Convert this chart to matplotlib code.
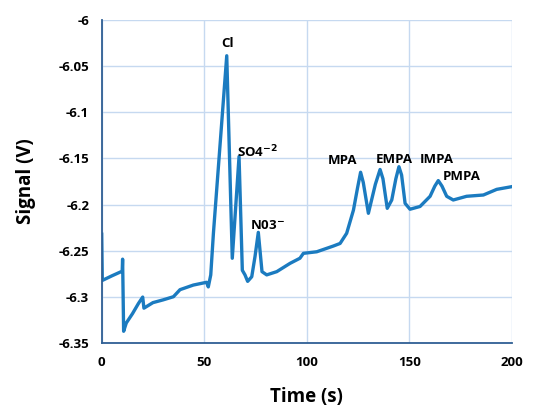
import numpy as np
import matplotlib
matplotlib.use('Agg')
import matplotlib.pyplot as plt

plt.rcParams['font.family'] = ['Open Sans', 'DejaVu Sans']

# chromatogram trace (time s, signal V)
time_s = [0.0, 0.3, 5.0, 10.0, 10.2, 10.7, 12.0, 15.0, 17.9, 20.0, 20.6, 25.0,
          30.0, 35.0, 38.2, 44.7, 51.2, 52.0, 53.2, 54.5, 61.0, 63.7, 67.0,
          68.6, 69.9, 71.2, 73.2, 74.8, 76.4, 78.2, 80.5, 85.4, 91.9, 96.7,
          98.4, 104.9, 113.0, 116.3, 119.5, 122.8, 124.8, 126.3, 127.6, 130.1,
          133.5, 135.8, 137.2, 139.3, 141.5, 143.5, 145.0, 146.3, 148.0, 150.4,
          155.3, 160.2, 162.5, 164.2, 166.0, 168.3, 171.5, 178.0, 186.2, 192.7,
          200.0]
signal_v = [-6.232, -6.282, -6.277, -6.272, -6.259, -6.337, -6.328, -6.318,
            -6.307, -6.300, -6.312, -6.306, -6.303, -6.2996, -6.292, -6.287,
            -6.284, -6.289, -6.276, -6.231, -6.039, -6.258, -6.148, -6.271,
            -6.276, -6.283, -6.278, -6.256, -6.230, -6.2725, -6.276, -6.2725,
            -6.2635, -6.258, -6.2527, -6.251, -6.2448, -6.242, -6.231, -6.206,
            -6.182, -6.165, -6.176, -6.2094, -6.178, -6.162, -6.172, -6.204,
            -6.195, -6.172, -6.159, -6.168, -6.1986, -6.205, -6.202, -6.191,
            -6.180, -6.174, -6.180, -6.191, -6.195, -6.191, -6.1896, -6.1835,
            -6.1806]

peak_labels = ['Cl', 'SO4$^{\\mathbf{-2}}$', 'N03$^{\\mathbf{-}}$', 'MPA', 'EMPA', 'IMPA', 'PMPA']
label_t = [61.6, 66.2, 72.4, 117.6, 133.8, 155.3, 166.3]
label_v = [-6.026, -6.143, -6.223, -6.1525, -6.1507, -6.1507, -6.170]
label_ha = ['center', 'left', 'left', 'center', 'left', 'left', 'left']

xticks = [0, 50, 100, 150, 200]
yticks = [-6.35, -6.3, -6.25, -6.2, -6.15, -6.1, -6.05, -6.0]
ytick_labels = ['-6.35', '-6.3', '-6.25', '-6.2', '-6.15', '-6.1', '-6.05', '-6']

fig = plt.figure(figsize=(5.33, 4.07), dpi=100)
ax = fig.add_axes([0.1908, 0.1565, 0.7692, 0.7951])

ax.plot(time_s, signal_v, color='#1b7bc0', lw=2.4, solid_joinstyle='round')

for txt, t, v, ha in zip(peak_labels, label_t, label_v, label_ha):
    ax.text(t, v, txt, ha=ha, va='center', fontsize=9.5, fontweight='bold')

ax.set_xlim(0, 200)
ax.set_ylim(-6.35, -6.0)
ax.set_xticks(xticks)
ax.set_yticks(yticks)
ax.set_yticklabels(ytick_labels)
ax.grid(True, color='#c6d9f0', lw=1.0)
ax.set_axisbelow(True)
for s in ['top', 'right']:
    ax.spines[s].set_visible(False)
for s in ['left', 'bottom']:
    ax.spines[s].set_color('#2f5f94')
    ax.spines[s].set_linewidth(1.3)
ax.tick_params(length=0, pad=9, labelsize=9.5)
for lab in ax.get_xticklabels() + ax.get_yticklabels():
    lab.set_fontweight('bold')

ax.set_xlabel('Time (s)', fontsize=13.5, fontweight='bold', labelpad=13)
ax.set_ylabel('Signal (V)', fontsize=13.5, fontweight='bold', labelpad=16)

fig.savefig('out.png', dpi=100)
